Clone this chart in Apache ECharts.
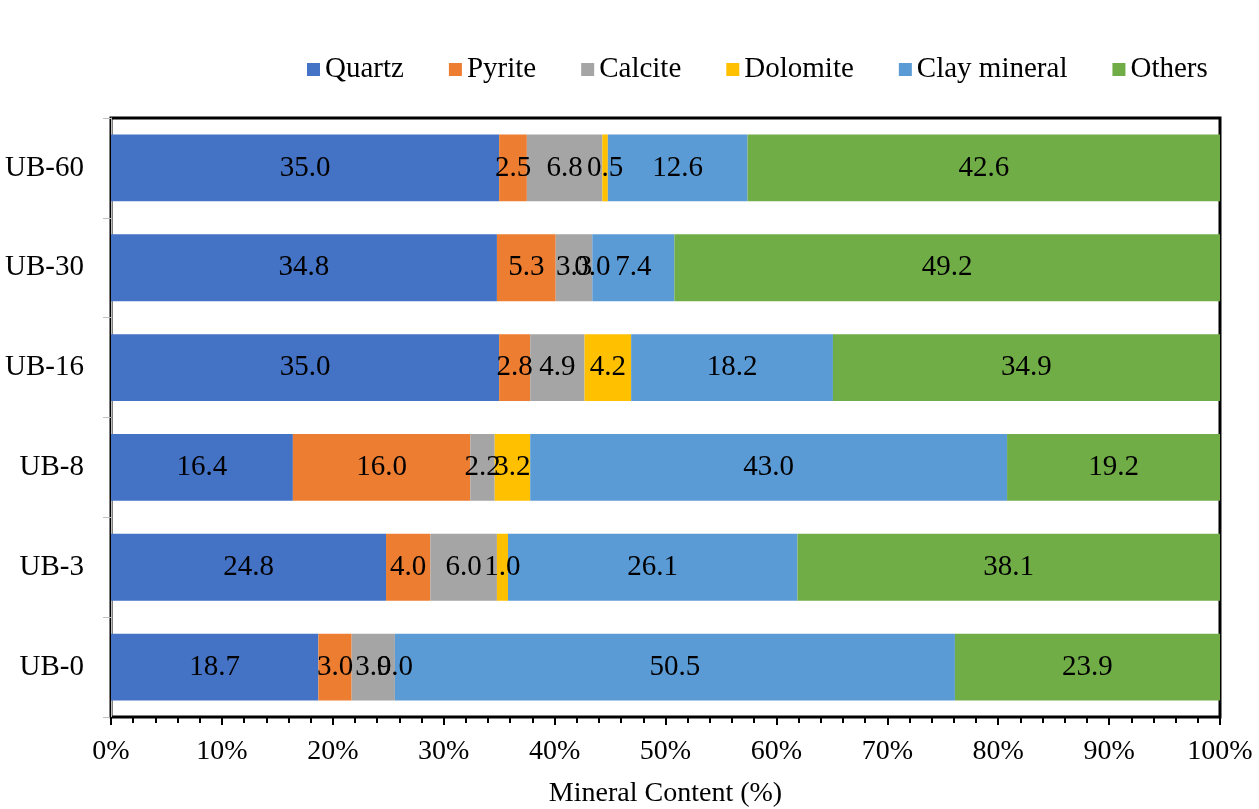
<!DOCTYPE html>
<html>
<head>
<meta charset="utf-8">
<script src="https://cdn.jsdelivr.net/npm/echarts@6/dist/echarts.min.js"></script>
<style>
html, body { margin: 0; padding: 0; background: #fff; }
#chart { width: 1259px; height: 809px; }
</style>
</head>
<body>
<div id="chart"></div>
<script>
var samples = ["UB-0", "UB-3", "UB-8", "UB-16", "UB-30", "UB-60"];
var minerals = ["Quartz", "Pyrite", "Calcite", "Dolomite", "Clay mineral", "Others"];
var quartz = [18.7, 24.8, 16.4, 35.0, 34.8, 35.0];
var pyrite = [3.0, 4.0, 16.0, 2.8, 5.3, 2.5];
var calcite = [3.9, 6.0, 2.2, 4.9, 3.3, 6.8];
var dolomite = [0.0, 1.0, 3.2, 4.2, 0.0, 0.5];
var clay = [50.5, 26.1, 43.0, 18.2, 7.4, 12.6];
var others = [23.9, 38.1, 19.2, 34.9, 49.2, 42.6];
var colors = ["#4472C4", "#ED7D31", "#A5A5A5", "#FFC000", "#5B9BD5", "#70AD47"];

var font = "Liberation Serif";
var allData = [quartz, pyrite, calcite, dolomite, clay, others];

var series = [];
for (var i = 0; i < minerals.length; i++) {
	series.push({
		name: minerals[i],
		type: 'bar',
		stack: 'total',
		barWidth: '67%',
		itemStyle: { color: colors[i] },
		label: {
			show: true,
			position: 'inside',
			color: '#000',
			fontFamily: font,
			fontSize: 29,
			formatter: function (p) { return p.value.toFixed(1); }
		},
		data: allData[i]
	});
}

var chart = echarts.init(document.getElementById('chart'));
var option = {
	animation: false,
	textStyle: { fontFamily: font },
	legend: {
		data: minerals,
		left: 302,
		top: 50,
		icon: 'rect',
		itemWidth: 13,
		itemHeight: 13,
		itemGap: 45,
		textStyle: { color: '#000', fontFamily: font, fontSize: 29 }
	},
	grid: {
		left: 111,
		right: 39,
		top: 118,
		bottom: 92,
		outerBoundsMode: 'none',
		show: true,
		borderColor: '#000',
		borderWidth: 3
	},
	xAxis: {
		type: 'value',
		min: 0,
		max: 100,
		interval: 10,
		name: 'Mineral Content (%)',
		nameLocation: 'middle',
		nameGap: 63,
		nameTextStyle: { color: '#000', fontFamily: font, fontSize: 28 },
		axisLine: { show: true, lineStyle: { color: '#000', width: 1 } },
		axisTick: { show: true, length: 8, lineStyle: { color: '#000', width: 2 } },
		minorTick: { show: true, splitNumber: 5, length: 6, lineStyle: { color: '#000', width: 2 } },
		splitLine: { show: false },
		axisLabel: {
			color: '#000',
			fontFamily: font,
			fontSize: 28,
			margin: 21,
			formatter: '{value}%'
		}
	},
	yAxis: {
		type: 'category',
		data: samples,
		axisLine: { show: true, lineStyle: { color: '#BFBFBF', width: 1 } },
		axisTick: { show: true, length: 8, lineStyle: { color: '#BFBFBF', width: 1 } },
		axisLabel: { color: '#000', fontFamily: font, fontSize: 29, margin: 27 }
	},
	series: series
};
chart.setOption(option);
</script>
</body>
</html>
